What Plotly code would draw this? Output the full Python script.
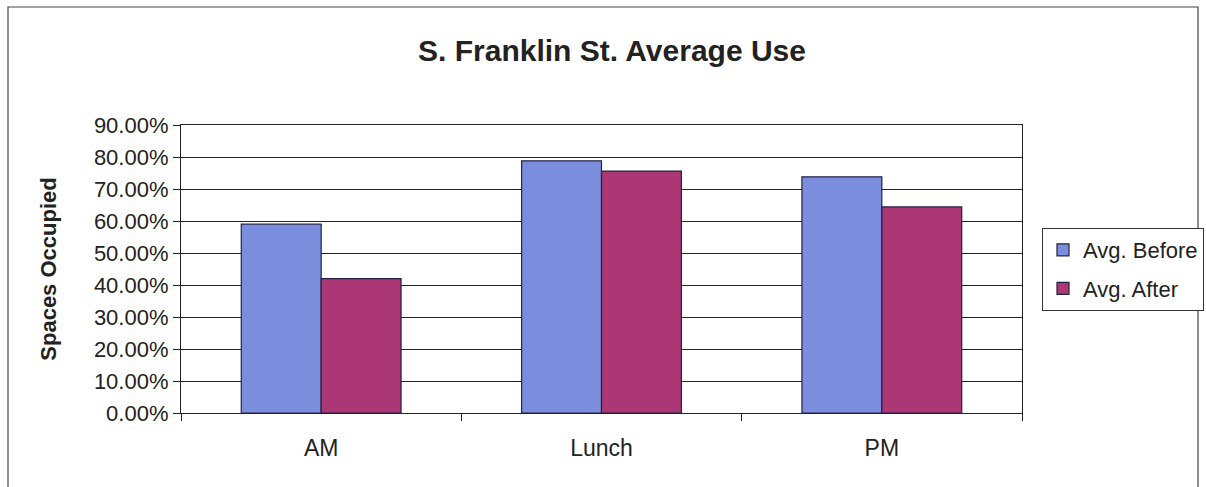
import plotly.graph_objects as go

categories = ["AM", "Lunch", "PM"]
avg_before = [0.59, 0.788, 0.738]
avg_after = [0.42, 0.756, 0.644]
y_ticks = [0.0, 0.1, 0.2, 0.3, 0.4, 0.5, 0.6, 0.7, 0.8, 0.9]

W, H = 1206, 487
L, R, T, B = 181, 1022, 125, 413

fig = go.Figure()
fig.add_trace(go.Bar(x=categories, y=avg_before, name="Avg. Before", legendgroup="a",
                     marker=dict(color="#7b8ede", line=dict(color="#222244", width=1.2))))
fig.add_trace(go.Bar(x=categories, y=avg_after, name="Avg. After", legendgroup="b",
                     marker=dict(color="#ab3874", line=dict(color="#222244", width=1.2))))

fig.update_layout(
    width=W, height=H,
    margin=dict(l=L, r=W - R, t=T, b=H - B, pad=0),
    paper_bgcolor="white", plot_bgcolor="white",
    barmode="group", bargap=0.43, bargroupgap=0,
    font=dict(family="Liberation Sans, Arial", size=22, color="#222"),
    title=dict(text="<b>S. Franklin St. Average Use</b>", x=612 / W, xref="container",
               y=1 - 50 / H, yref="container", xanchor="center", yanchor="middle",
               font=dict(size=30, color="#222")),
    showlegend=True,
    legend=dict(x=1204 / W, y=1 - 228 / H, xref="container", yref="container",
                xanchor="right", yanchor="top", traceorder="grouped", tracegroupgap=7,
                bordercolor="#333", borderwidth=1, bgcolor="white",
                font=dict(size=22, color="#222")),
    xaxis=dict(showline=True, linecolor="#222", linewidth=1.2, mirror=True,
               ticks="outside", tickson="boundaries", ticklen=7, tickcolor="#222",
               showgrid=False, tickfont=dict(size=23), ticklabelstandoff=14),
    yaxis=dict(range=[0, 0.9], tickvals=y_ticks, tickformat=".2%",
               showline=True, linecolor="#222", linewidth=1.2, mirror=True,
               ticks="outside", ticklen=7, tickcolor="#222",
               showgrid=True, gridcolor="#222", gridwidth=1, zeroline=False,
               tickfont=dict(size=22),
               title=dict(text="<b>Spaces Occupied</b>", font=dict(size=22), standoff=31)),
)

# outer chart border
fig.add_shape(type="rect", xref="paper", yref="paper",
              x0=(8 - L) / (R - L), x1=(1198 - L) / (R - L),
              y0=(B - 495) / (B - T), y1=(B - 7) / (B - T),
              line=dict(color="#444", width=1.2), fillcolor="rgba(0,0,0,0)", layer="below")

fig.write_html("out.html", config={"displayModeBar": False},
               post_script="document.body.style.margin='0';document.body.style.overflow='hidden';")
